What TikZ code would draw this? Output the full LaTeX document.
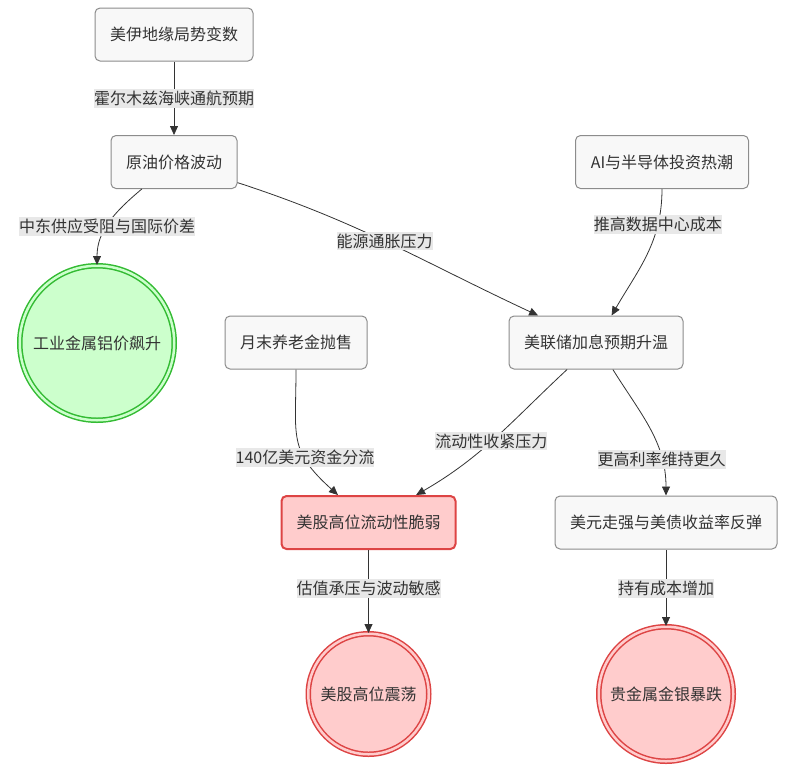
\documentclass[tikz,border=0pt]{standalone}
\usepackage{fontspec}
\setmainfont{Noto Sans CJK SC}
\usetikzlibrary{arrows.meta}

\definecolor{boxfill}{HTML}{F8F8F8}
\definecolor{boxline}{HTML}{8C8C8C}
\definecolor{redfill}{HTML}{FFCCCC}
\definecolor{redline}{HTML}{DD4444}
\definecolor{greenfill}{HTML}{CCFFCC}
\definecolor{greenline}{HTML}{33BB33}
\definecolor{edgeline}{HTML}{333333}
\definecolor{lblfill}{HTML}{E8E8E8}

\begin{document}
\begin{tikzpicture}[->,>={Triangle[length=9pt,width=8pt]},font=\fontsize{16}{19}\selectfont,
    every edge/.append style={draw=edgeline, line width=0.8pt}]
      \tikzstyle{box}=[draw=boxline, fill=boxfill, text=edgeline, rounded corners=5pt, inner xsep=15pt, minimum height=53pt, line width=1pt]
      \tikzstyle{hot}=[box, draw=redline, fill=redfill, line width=2pt]
      \tikzstyle{endred}=[circle, draw=redline, fill=redfill, double=redfill, double distance=2.5pt, line width=1.5pt, inner sep=0pt, text=edgeline]
      \tikzstyle{endgreen}=[endred, draw=greenline, fill=greenfill, double=greenfill]
      \tikzstyle{lbl}=[fill=lblfill, text=edgeline, inner xsep=0pt, inner ysep=2pt]

      \useasboundingbox (0,0) rectangle (786pt,-774pt);

      \node[box](geo) at (174pt,-34.5pt) {美伊地缘局势变数};
      \node[box](oil) [below of=geo, node distance=127.5pt] {原油价格波动} edge [<-] node[lbl] {霍尔木兹海峡通航预期} (geo);
      \node[box, minimum width=173pt](ai) [right of=oil, node distance=488pt] {AI与半导体投资热潮};
      \node[endgreen, minimum size=154.5pt](alu) at (97pt,-343pt) {工业金属铝价飙升} edge [<-, in=-140, out=90] node[lbl, pos=0.45] {中东供应受阻与国际价差} (oil);
      \node[box](pension) at (296pt,-342.5pt) {月末养老金抛售};
      \node[box](fed) [right of=pension, node distance=300pt] {美联储加息预期升温}
        edge [<-, in=-18, out=155] node[lbl, pos=0.52] {能源通胀压力} (oil)
        edge [<-, in=-90, out=60] node[lbl, pos=0.75] {推高数据中心成本} (ai);
      \node[hot](liq) at (368.5pt,-522.5pt) {美股高位流动性脆弱}
        edge [<-, in=-90, out=138, looseness=1.3] node[lbl, pos=0.33] {140亿美元资金分流} (pension)
        edge [<-, in=-137, out=30] node[lbl, pos=0.47] {流动性收紧压力} (fed);
      \node[box](usd) [right of=liq, node distance=297.5pt] {美元走强与美债收益率反弹} edge [<-, in=-58, out=90] node[lbl, pos=0.25] {更高利率维持更久} (fed);
      \node[endred, minimum size=120.5pt](swing) [below of=liq, node distance=171.5pt] {美股高位震荡} edge [<-] node[lbl, pos=0.54] {估值承压与波动敏感} (liq);
      \node[endred, minimum size=134.5pt](metal) [below of=usd, node distance=171.5pt] {贵金属金银暴跌} edge [<-] node[lbl, pos=0.49] {持有成本增加} (usd);
    \end{tikzpicture}
\end{document}
